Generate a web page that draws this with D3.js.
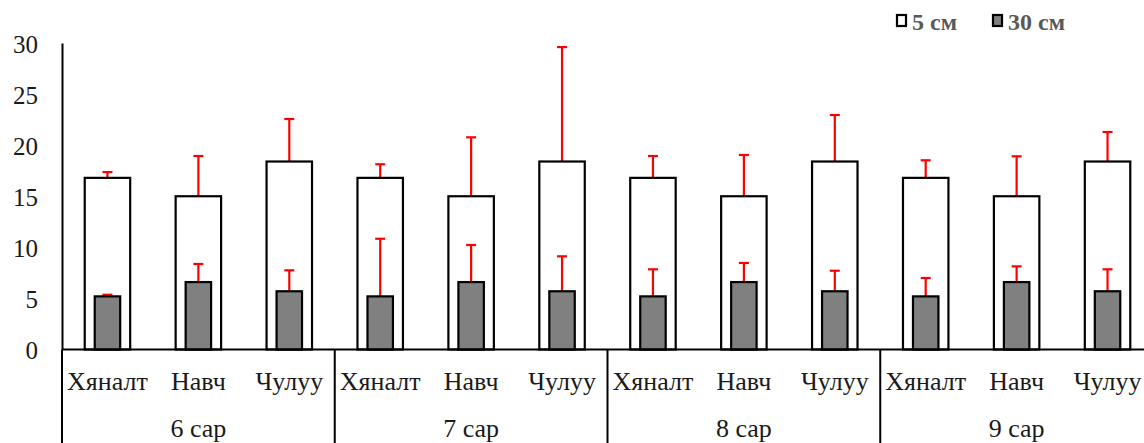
<!DOCTYPE html>
<html>
<head>
<meta charset="utf-8">
<script src="https://cdn.jsdelivr.net/npm/d3@7"></script>
<style>
  html, body { margin: 0; padding: 0; background: #fff; }
  svg { display: block; }
</style>
</head>
<body>
<svg id="chart" width="1144" height="443"></svg>
<script>
const months = ["6 сар", "7 сар", "8 сар", "9 сар"];
const categories = ["Хяналт", "Навч", "Чулуу"];
const seriesNames = ["5 см", "30 см"];
// values per month x category (flattened month-major)
const mean5 = [16.8, 15.0, 18.4, 16.8, 15.0, 18.4, 16.8, 15.0, 18.4, 16.8, 15.0, 18.4];
const err5  = [0.57, 3.94, 4.16, 1.33, 5.77, 11.2, 2.14, 4.04, 4.55, 1.72, 3.91, 2.89];
const mean30 = [5.2, 6.6, 5.7, 5.2, 6.6, 5.7, 5.2, 6.6, 5.7, 5.2, 6.6, 5.7];
const err30  = [0.16, 1.77, 2.05, 5.64, 3.63, 3.42, 2.65, 1.87, 2.01, 1.8, 1.54, 2.15];
const yTicks = [0, 5, 10, 15, 20, 25, 30];

(function () {
const svg = d3.select("#chart");
const serif = "'Liberation Serif', 'Times New Roman', serif";

const plotL = 62, plotR = 1153, plotT = 43, base = 349.5;

const xGroup = d3.scaleBand().domain(months).range([plotL, plotR]).padding(0);
const xCat = d3.scaleBand().domain(categories).range([0, xGroup.bandwidth()]).padding(0);
const y = d3.scaleLinear().domain([0, 30]).range([base, plotT]);

const data = [];
months.forEach((m, i) => categories.forEach((c, j) => {
  const k = i * categories.length + j;
  data.push({ m, c, v5: mean5[k], e5: err5[k], v30: mean30[k], e30: err30[k] });
}));
const cx = d => xGroup(d.m) + xCat(d.c) + xCat.bandwidth() / 2;
const w5 = xCat.bandwidth() * 0.5;
const w30 = xCat.bandwidth() * 0.28;
const cap = 5;

// Y axis
const yAxis = d3.axisLeft(y).tickValues(yTicks).tickSize(0).tickPadding(24);
const gy = svg.append("g").attr("transform", `translate(${plotL},0)`).call(yAxis);
gy.attr("font-family", serif).attr("font-size", 25);
gy.select(".domain").attr("stroke", "#000").attr("stroke-width", 2);
gy.selectAll("text").attr("font-family", serif).attr("font-size", 25).attr("fill", "#1a1a1a").attr("dy", "0.36em");

const g = svg.append("g");
const eb5 = g.selectAll(".e5").data(data).enter().append("g");
eb5.append("line").attr("x1", cx).attr("x2", cx).attr("y1", d => y(d.v5)).attr("y2", d => y(d.v5 + d.e5))
  .attr("stroke", "#ff0000").attr("stroke-width", 2.2);
eb5.append("line").attr("x1", d => cx(d) - cap).attr("x2", d => cx(d) + cap).attr("y1", d => y(d.v5 + d.e5)).attr("y2", d => y(d.v5 + d.e5))
  .attr("stroke", "#ff0000").attr("stroke-width", 2.2);

g.selectAll(".b5").data(data).enter().append("rect")
  .attr("x", d => cx(d) - w5 / 2).attr("width", w5)
  .attr("y", d => y(d.v5)).attr("height", d => base - y(d.v5))
  .attr("fill", "#fff").attr("stroke", "#000").attr("stroke-width", 2.2);

const eb30 = g.selectAll(".e30").data(data).enter().append("g");
eb30.append("line").attr("x1", cx).attr("x2", cx).attr("y1", d => y(d.v30)).attr("y2", d => y(d.v30 + d.e30))
  .attr("stroke", "#ff0000").attr("stroke-width", 2.2);
eb30.append("line").attr("x1", d => cx(d) - cap).attr("x2", d => cx(d) + cap).attr("y1", d => y(d.v30 + d.e30)).attr("y2", d => y(d.v30 + d.e30))
  .attr("stroke", "#ff0000").attr("stroke-width", 2.2);

g.selectAll(".b30").data(data).enter().append("rect")
  .attr("x", d => cx(d) - w30 / 2).attr("width", w30)
  .attr("y", d => y(d.v30)).attr("height", d => base - y(d.v30))
  .attr("fill", "#808080").attr("stroke", "#000").attr("stroke-width", 2.2);

// X axis baseline
svg.append("line").attr("x1", plotL).attr("x2", plotR).attr("y1", base).attr("y2", base)
  .attr("stroke", "#000").attr("stroke-width", 2);

// group separators
const seps = months.map(m => xGroup(m)).concat([plotR]);
svg.selectAll(".sep").data(seps).enter().append("line")
  .attr("x1", d => d).attr("x2", d => d).attr("y1", base).attr("y2", 443)
  .attr("stroke", "#000").attr("stroke-width", 2);

// category labels
svg.selectAll(".cl").data(data).enter().append("text")
  .attr("x", cx).attr("y", 390).attr("text-anchor", "middle")
  .attr("font-family", serif).attr("font-size", 26).attr("fill", "#1a1a1a")
  .text(d => d.c);

// month labels
svg.selectAll(".ml").data(months).enter().append("text")
  .attr("x", d => xGroup(d) + xGroup.bandwidth() / 2).attr("y", 437).attr("text-anchor", "middle")
  .attr("font-family", serif).attr("font-size", 26).attr("fill", "#1a1a1a")
  .text(d => d);

// legend
const legX = [896, 992];
const lg = svg.selectAll(".lg").data(seriesNames).enter().append("g")
  .attr("transform", (d, i) => `translate(${legX[i]},15)`);
lg.append("rect").attr("x", 1).attr("y", 0).attr("width", 9).attr("height", 11)
  .attr("fill", (d, i) => i === 0 ? "#fff" : "#808080").attr("stroke", "#000").attr("stroke-width", 2.2);
lg.append("text").attr("x", 16).attr("y", 15)
  .attr("font-family", serif).attr("font-size", 24).attr("font-weight", "bold").attr("fill", "#595959")
  .text(d => d);
})();
</script>
</body>
</html>
